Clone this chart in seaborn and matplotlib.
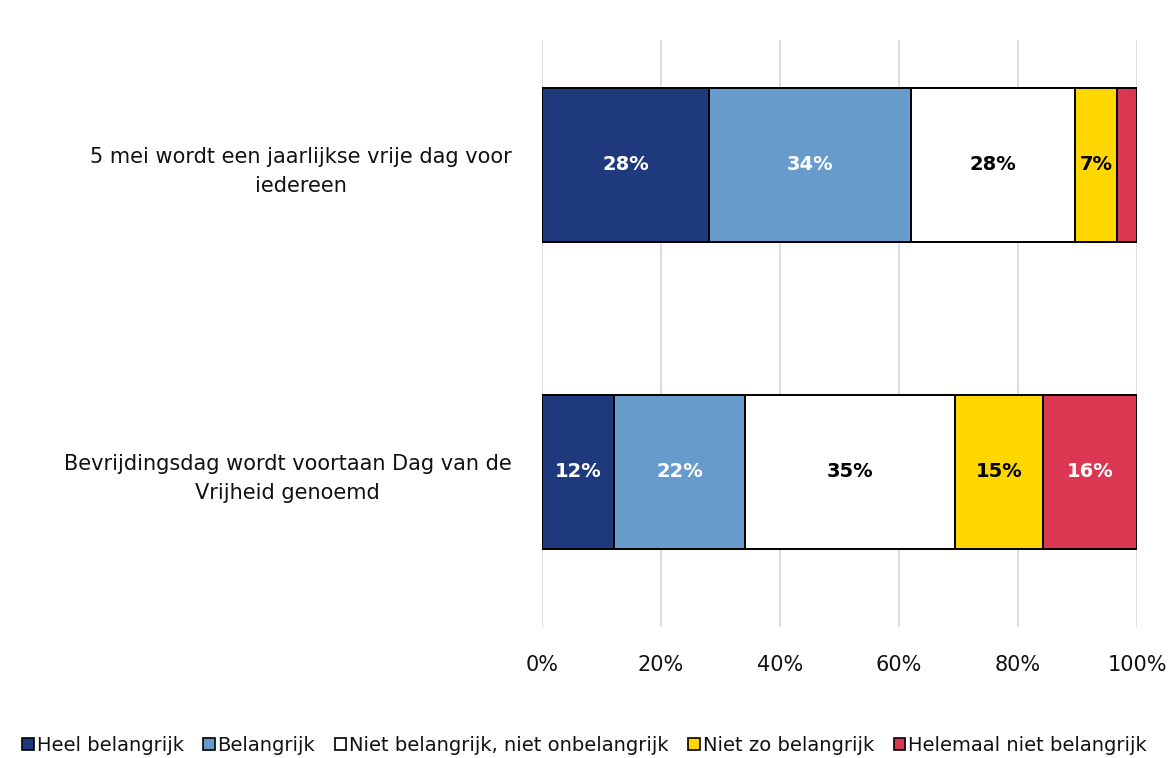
import pandas as pd
import matplotlib.pyplot as plt
import seaborn as sns
from matplotlib.patches import Patch

# ── DATA ─────────────────────────────────────────────────────────────────────

statements = ['5 mei wordt een jaarlijkse vrije dag voor\niedereen',
              'Bevrijdingsdag wordt voortaan Dag van de\nVrijheid genoemd']
answers = ['Heel belangrijk', 'Belangrijk', 'Niet belangrijk, niet onbelangrijk',
           'Niet zo belangrijk', 'Helemaal niet belangrijk']
heel_belangrijk = [28.1, 12.1]
belangrijk = [33.9, 22.0]
neutraal = [27.6, 35.3]
niet_zo = [7.0, 14.8]
helemaal_niet = [3.4, 15.8]

colors = ['#1F3A7C', '#679BCB', '#FFFFFF', '#FFD700', '#DC3752']
label_colors = ['white', 'white', 'black', 'black', 'white']

# ── BUILD TABLE ──────────────────────────────────────────────────────────────

df = pd.DataFrame({'statement': statements,
                   answers[0]: heel_belangrijk,
                   answers[1]: belangrijk,
                   answers[2]: neutraal,
                   answers[3]: niet_zo,
                   answers[4]: helemaal_niet})
cum = df[answers].cumsum(axis=1)

# ── PLOT ─────────────────────────────────────────────────────────────────────

sns.set_style('white')
plt.rcParams['font.family'] = ['DejaVu Sans']

fig = plt.figure(figsize=(11.69, 7.58), dpi=100)
ax = fig.add_axes([542 / 1169, 131 / 758, 595 / 1169, 587 / 758])

# stacked bars: draw cumulative totals from the outside in
for i in reversed(range(len(answers))):
    sns.barplot(x=cum[answers[i]], y=df['statement'], orient='h', color=colors[i],
                edgecolor='black', linewidth=1.4, width=0.5, saturation=1,
                ax=ax, zorder=3)

# value labels
for r in range(len(statements)):
    for i, a in enumerate(answers):
        v = df.loc[r, a]
        if v < 5:
            continue
        xc = cum.loc[r, a] - v / 2
        ax.text(xc, r, f'{v:.0f}%', ha='center', va='center', fontsize=14,
                fontweight='bold', color=label_colors[i], zorder=4)

ax.set_xlim(0, 100)
ax.set_ylim(1.505, -0.407)
ax.set_xticks(range(0, 101, 20))
ax.set_xticklabels([f'{t}%' for t in range(0, 101, 20)])
ax.xaxis.grid(True, color='#d9d9d9', linewidth=1.3, zorder=0)
ax.yaxis.grid(False)
ax.set_axisbelow(True)
ax.set_xlabel('')
ax.set_ylabel('')
ax.tick_params(axis='x', length=0, pad=20, labelsize=15, labelcolor='#111111')
ax.tick_params(axis='y', length=0, pad=22, labelsize=15, labelcolor='#111111')
for lab in ax.get_yticklabels():
    lab.set_horizontalalignment('right')
    lab.set_multialignment('center')
    lab.set_linespacing(1.55)
sns.despine(ax=ax, left=True, bottom=True)

handles = [Patch(facecolor=c, edgecolor='black', linewidth=1.2) for c in colors]
fig.legend(handles, answers, loc='center', bbox_to_anchor=(0.5, 0.017), ncol=5,
           frameon=False, fontsize=14, handlelength=0.6, handleheight=0.6,
           handletextpad=0.15, columnspacing=1.0, labelcolor='#111111')

plt.savefig('out.png', dpi=100)
